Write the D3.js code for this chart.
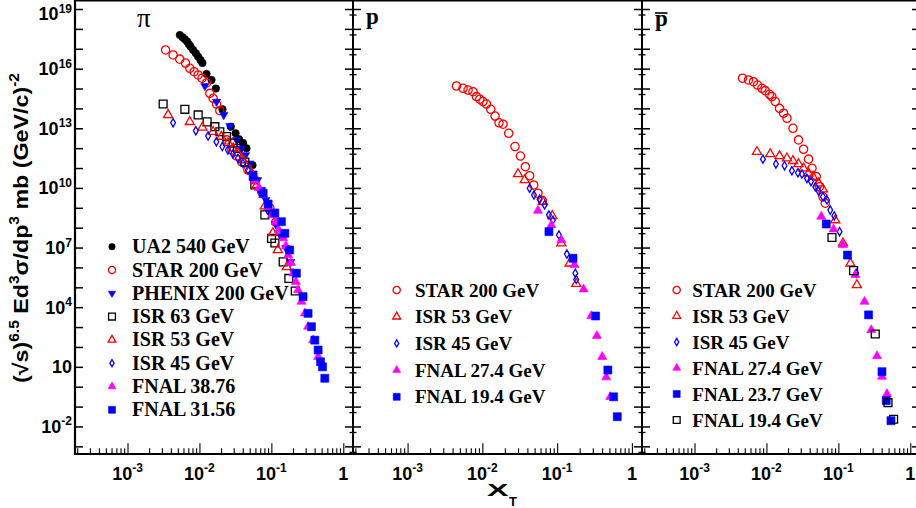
<!DOCTYPE html>
<html>
<head>
<meta charset="utf-8">
<script src="https://cdn.jsdelivr.net/npm/d3@7"></script>
<style>
  html, body { margin: 0; padding: 0; background: #fff; }
  svg { display: block; }
</style>
</head>
<body>
<svg id="chart" width="916" height="508"></svg>
<script>
// ---- Data: [x_T, (sqrt s)^6.5 E d3sigma/dp3] ----

// pi panel
const piUA2 = [[0.00534,4.9e17],[0.00582,3.8e17],[0.00627,3.0e17],[0.00675,2.3e17],[0.00713,1.7e17],[0.00752,1.3e17],[0.00817,8.7e16],[0.00891,5.9e16],[0.00959,4.0e16],[0.01035,2.7e16],[0.0110,1.9e16],[0.01255,5.4e15],[0.01473,2.7e15],[0.0169,1.0e15],[0.0209,9.0e13],[0.0273,1.2e13],[0.0318,5.6e12],[0.0356,2.8e12],[0.0405,1.8e12],[0.0451,9.8e11],[0.0547,1.4e11]];
const piSTAR = [[0.00338,8.7e16],[0.00431,4.9e16],[0.00533,3.0e16],[0.00641,1.9e16],[0.00735,1.04e16],[0.00843,7.0e15],[0.0096,4.8e15],[0.0109,3.3e15],[0.01256,1.9e15],[0.01395,5.7e14],[0.0155,3.2e14],[0.0173,1.66e14],[0.0192,7.7e13],[0.0240,2.6e12],[0.0282,8.1e11],[0.0331,4.0e11],[0.0389,2.0e11],[0.0471,8.0e10],[0.0589,2.5e10],[0.0736,6.2e9],[0.0951,9.8e8],[0.115,1.9e8]];
const piPHENIX = [[0.0119,1.34e15],[0.0173,2.2e14],[0.0218,4.7e13],[0.0265,1.3e13],[0.0328,2.6e12],[0.0385,9.8e11],[0.0437,4.5e11],[0.0502,1.7e11],[0.0558,5.4e10],[0.0643,2.5e10],[0.0730,7.9e9],[0.0838,2.5e9],[0.0984,6.2e8],[0.115,1.5e8],[0.135,3.8e7],[0.159,9.5e6],[0.186,1.9e6],[0.205,5.9e5]];
const piISR63 = [[0.00313,1.66e14],[0.00627,9.0e13],[0.0096,4.7e13],[0.0128,2.1e13],[0.0164,1.2e13],[0.0192,6.7e12],[0.0238,3.8e12],[0.0294,1.8e12],[0.0339,9.8e11],[0.0428,2.0e11],[0.0589,1.4e10],[0.0811,4.4e8],[0.1005,2.9e7],[0.112,1.7e7],[0.146,1.9e6],[0.175,2.8e5],[0.215,6.5e4]];
const piISR53 = [[0.00367,4.7e13],[0.00734,2.1e13],[0.0110,1.1e13],[0.0155,6.7e12],[0.0202,3.8e12],[0.025,1.8e12],[0.0294,9.8e11],[0.0341,5.7e11],[0.0405,2.5e11],[0.0501,8.0e10],[0.0627,1.4e10],[0.081,1.2e9],[0.105,5.4e7],[0.123,7.6e6],[0.164,1.05e6]];
const piISR45 = [[0.0043,1.9e13],[0.0089,7.5e12],[0.0132,4.1e12],[0.0172,2.1e12],[0.0208,1.2e12],[0.0249,8.1e11],[0.0292,5.1e11],[0.0343,3.1e11],[0.0403,1.7e11],[0.0473,8.0e10],[0.0555,3.5e10],[0.0687,7.9e9],[0.0887,7.8e8]];
const piFNAL3876 = [[0.0589,2.5e10],[0.067,9.9e9],[0.0769,4.4e9],[0.0902,1.14e9],[0.1016,4.3e8],[0.1154,1.9e8],[0.127,7.6e7],[0.146,3.0e7],[0.159,1.2e7],[0.171,4.2e6],[0.187,1.7e6],[0.201,5.1e5],[0.219,1.9e5],[0.235,7.3e4],[0.262,1.9e4],[0.292,4.9e3],[0.324,1.04e3],[0.381,2.2e2],[0.447,32]];
const piFNAL3156 = [[0.0558,3.7e10],[0.0769,5.4e9],[0.0902,1.55e9],[0.1117,5.5e8],[0.138,2.0e8],[0.154,5.2e7],[0.180,7.5e6],[0.223,5.1e5],[0.276,3.4e4],[0.324,4.9e3],[0.361,1.04e3],[0.402,2.2e2],[0.447,70],[0.482,18],[0.514,10],[0.553,2.65]];

// proton panel
const pSTAR = [[0.00451,1.34e15],[0.00552,1.03e15],[0.00644,8.4e14],[0.00751,6.9e14],[0.00834,3.9e14],[0.00923,2.9e14],[0.0102,2.2e14],[0.01135,1.66e14],[0.01295,9.0e13],[0.0148,4.1e13],[0.0167,1.9e13],[0.0189,1.6e13],[0.0225,5.6e12],[0.0273,1.2e12],[0.0323,4.0e11],[0.0376,1.17e11],[0.0429,4.1e10],[0.0486,1.4e10],[0.0554,5.4e9],[0.0634,2.3e9]];
const pISR53 = [[0.030,5.0e10],[0.0368,2.5e10],[0.0646,2.0e9],[0.0862,3.9e8],[0.1137,1.64e7],[0.147,1.6e6],[0.180,1.5e5]];
const pISR45 = [[0.0429,9.6e9],[0.049,4.4e9],[0.0583,2.7e9],[0.068,1.4e9],[0.0777,4.3e8],[0.0879,2.4e8],[0.1057,4.3e7],[0.135,4.7e6],[0.175,5.1e5],[0.180,2.5e5]];
const pFNAL274 = [[0.0554,7.2e8],[0.0837,1.36e8],[0.1137,2.4e7],[0.171,1.33e6],[0.226,7.9e4],[0.286,3.6e3],[0.340,3.6e2],[0.401,32],[0.454,3.0],[0.513,0.31]];
const pFNAL194 = [[0.0777,6.3e7],[0.163,2.9e6],[0.327,3.6e3],[0.477,6.9],[0.569,0.31],[0.637,0.031]];

// antiproton panel
const pbarSTAR = [[0.00465,3.3e15],[0.00563,2.7e15],[0.00662,2.2e15],[0.00752,1.5e15],[0.00866,1.03e15],[0.00962,7.8e14],[0.0110,5.1e14],[0.0119,3.9e14],[0.01325,2.2e14],[0.0152,1.0e14],[0.0173,5.7e13],[0.0193,3.2e13],[0.0234,1.0e13],[0.0279,2.6e12],[0.0328,8.8e11],[0.0385,2.8e11],[0.043,9.7e10],[0.0493,3.7e10],[0.0548,1.15e10],[0.0611,3.6e9],[0.0658,1.7e9]];
const pbarISR53 = [[0.00738,6.6e11],[0.0113,5.1e11],[0.0152,4.0e11],[0.0193,3.1e11],[0.0234,2.3e11],[0.0279,1.6e11],[0.0328,9.7e10],[0.0385,5.4e10],[0.0443,3.7e10],[0.0531,1.7e10],[0.0611,8.5e9],[0.0906,2.4e8],[0.116,1.64e7],[0.147,1.6e6],[0.181,1.3e5]];
const pbarISR45 = [[0.00894,2.8e11],[0.01355,1.6e11],[0.01786,1.31e11],[0.0226,7.3e10],[0.0274,5.8e10],[0.0312,5.0e10],[0.0366,3.0e10],[0.0416,2.1e10],[0.0478,1.15e10],[0.0531,7.0e9],[0.0611,3.6e9],[0.0694,2.5e9],[0.0771,7.7e8],[0.0877,3.9e8],[0.104,6.3e7],[0.177,5.1e5]];
const pbarFNAL274 = [[0.0578,3.6e8],[0.0858,8.3e7],[0.116,1.35e7],[0.172,4.2e5],[0.231,1.9e4],[0.286,7.1e2],[0.344,35],[0.404,3.2],[0.474,0.43]];
const pbarFNAL237 = [[0.0679,1.53e8],[0.134,4.2e6],[0.263,4.1e3],[0.404,5.7],[0.463,0.198],[0.539,0.0195]];
const pbarFNAL194 = [[0.0815,3.2e7],[0.163,6.9e5],[0.326,4.5e2],[0.490,0.157],[0.586,0.023]];

// Axis labelling (powers of ten)
const xLabelExps = [-3, -2, -1, 0];
const yLabelExps = [19, 16, 13, 10, 7, 4, 1, -2];

// ---- Styles per marker type ----
const RED = "#ff0000", BLUE = "#0000ff", MAG = "#ff00ff", BLK = "#000000";
const styles = {
  fullCircle:   { type: d3.symbolCircle,   size: 44, filled: true,  rot: 0 },
  openCircle:   { type: d3.symbolCircle,   size: 54, filled: false, rot: 0 },
  fullTriDown:  { type: d3.symbolTriangle, size: 30, filled: true,  rot: 180 },
  openSquare:   { type: d3.symbolSquare,   size: 62, filled: false, rot: 0 },
  openTriangle: { type: d3.symbolTriangle, size: 36, filled: false, rot: 0 },
  openDiamond:  { type: d3.symbolDiamond,  size: 20, filled: false, rot: 0 },
  fullTriangle: { type: d3.symbolTriangle, size: 36, filled: true,  rot: 0 },
  fullSquare:   { type: d3.symbolSquare,   size: 64, filled: true,  rot: 0 }
};

const panels = [
  { x0: 75, x1: 353, label: "π", legendX: 112, legendY: 246.7, legendStep: 23.3, textX: 132, legendFont: 20,
    series: [
      { name: "UA2 540 GeV",     data: piUA2,     style: "fullCircle",   color: BLK },
      { name: "STAR 200 GeV",    data: piSTAR,    style: "openCircle",   color: RED },
      { name: "PHENIX 200 GeV",  data: piPHENIX,  style: "fullTriDown",  color: BLUE },
      { name: "ISR 63 GeV",      data: piISR63,   style: "openSquare",   color: BLK },
      { name: "ISR 53 GeV",      data: piISR53,   style: "openTriangle", color: RED },
      { name: "ISR 45 GeV",      data: piISR45,   style: "openDiamond",  color: BLUE },
      { name: "FNAL 38.76",      data: piFNAL3876, style: "fullTriangle", color: MAG },
      { name: "FNAL 31.56",      data: piFNAL3156, style: "fullSquare",   color: BLUE }
    ] },
  { x0: 353, x1: 642, label: "p", legendX: 396.7, legendY: 290, legendStep: 26.7, textX: 415, legendFont: 19,
    series: [
      { name: "STAR 200 GeV",   data: pSTAR,    style: "openCircle",   color: RED },
      { name: "ISR 53 GeV",     data: pISR53,   style: "openTriangle", color: RED },
      { name: "ISR 45 GeV",     data: pISR45,   style: "openDiamond",  color: BLUE },
      { name: "FNAL 27.4 GeV",  data: pFNAL274, style: "fullTriangle", color: MAG },
      { name: "FNAL 19.4 GeV",  data: pFNAL194, style: "fullSquare",   color: BLUE }
    ] },
  { x0: 642, x1: 920, label: "p", bar: true, legendX: 676.7, legendY: 290, legendStep: 26, textX: 692.3, legendFont: 19,
    series: [
      { name: "STAR 200 GeV",   data: pbarSTAR,    style: "openCircle",   color: RED },
      { name: "ISR 53 GeV",     data: pbarISR53,   style: "openTriangle", color: RED },
      { name: "ISR 45 GeV",     data: pbarISR45,   style: "openDiamond",  color: BLUE },
      { name: "FNAL 27.4 GeV",  data: pbarFNAL274, style: "fullTriangle", color: MAG },
      { name: "FNAL 23.7 GeV",  data: pbarFNAL237, style: "fullSquare",   color: BLUE },
      { name: "FNAL 19.4 GeV",  data: pbarFNAL194, style: "openSquare",   color: BLK }
    ] }
];

// ---- Geometry ----
const TOP = 0, BOTTOM = 454;
const SANS = "Liberation Sans, Arial, Helvetica, sans-serif";
const SERIF = "Liberation Serif, Times New Roman, Times, serif";

const svg = d3.select("#chart");
svg.append("rect").attr("width", 916).attr("height", 508).attr("fill", "#fff");

const yScale = d3.scaleLog()
  .domain([Math.pow(10, -3.385), Math.pow(10, 19.453)])
  .range([BOTTOM, TOP]);
// the inner frames of the p and pbar pads are offset slightly in y
const yScaleInner = d3.scaleLog()
  .domain([Math.pow(10, -3.108), Math.pow(10, 19.73)])
  .range([BOTTOM, TOP]);
const xDomain = [Math.pow(10, -3.73), Math.pow(10, 0.135)];

const yDecades = d3.range(-3, 20).map(e => Math.pow(10, e));

function markerPath(st, scale) {
  return d3.symbol().type(st.type).size(st.size * (scale || 1))();
}

function drawMarker(g, st, color, x, y, scale) {
  g.append("path")
    .attr("d", markerPath(st, scale))
    .attr("transform", `translate(${x},${y}) rotate(${st.rot})`)
    .attr("fill", st.filled ? color : "none")
    .attr("stroke", color)
    .attr("stroke-width", st.filled ? 0.6 : 1.3);
}

panels.forEach((p, pi) => {
  const x = d3.scaleLog().domain(xDomain).range([p.x0, p.x1]);
  const g = svg.append("g");

  // x ticks (major and minor), pointing up into the frame
  const majors = [], minors = [];
  for (let e = -4; e <= 0; e++) {
    for (let k = 1; k <= 9; k++) {
      const v = k * Math.pow(10, e);
      if (v < xDomain[0] || v > xDomain[1]) continue;
      (k === 1 ? majors : minors).push(v);
    }
  }
  const axMinor = g.append("g").attr("transform", `translate(0,${BOTTOM})`)
    .call(d3.axisBottom(x).tickValues(minors).tickSize(-5.7).tickFormat(""));
  const axMajor = g.append("g").attr("transform", `translate(0,${BOTTOM})`)
    .call(d3.axisBottom(x).tickValues(majors).tickSize(-10.7).tickFormat(""));
  [axMinor, axMajor].forEach(a => {
    a.select(".domain").remove();
    a.selectAll(".tick line").attr("stroke", "#000").attr("stroke-width", 1.1);
  });

  // x tick labels
  xLabelExps.forEach(e => {
    const t = g.append("text")
      .attr("x", x(Math.pow(10, e))).attr("y", 480)
      .attr("text-anchor", "middle")
      .style("font-family", SANS).attr("font-weight", "bold").attr("font-size", 18);
    if (e === 0) {
      t.text("1");
    } else {
      t.append("tspan").text("10");
      t.append("tspan").attr("font-size", 12).attr("dy", -8).text(String(e));
    }
  });

  // y ticks on the left edge (pointing right) and right edge (pointing left)
  const left = g.append("g").attr("transform", `translate(${p.x0},0)`)
    .call(d3.axisLeft(yScale).tickValues(yDecades).tickSize(-8).tickFormat(""));
  const right = g.append("g").attr("transform", `translate(${p.x1},0)`)
    .call(d3.axisRight(yScale).tickValues(yDecades).tickSize(-8).tickFormat(""));
  [left, right].forEach(a => {
    a.select(".domain").remove();
    a.selectAll(".tick line").attr("stroke", "#000").attr("stroke-width", 1.5);
  });
  if (pi > 0) {
    const inner = g.append("g").attr("transform", `translate(${p.x0 - 3.5},0)`)
      .call(d3.axisRight(yScaleInner).tickValues(yDecades).tickSize(7).tickFormat(""));
    inner.select(".domain").remove();
    inner.selectAll(".tick line").attr("stroke", "#000").attr("stroke-width", 1.3);
  }

  // data markers
  p.series.forEach(s => {
    const st = styles[s.style];
    const sg = g.append("g");
    s.data.forEach(d => drawMarker(sg, st, s.color, x(d[0]), yScale(d[1])));
  });

  // legend
  p.series.forEach((s, i) => {
    const st = styles[s.style];
    const ly = p.legendY + i * p.legendStep;
    drawMarker(g, st, s.color, p.legendX, ly, 0.75);
    g.append("text")
      .attr("x", p.textX).attr("y", ly + 6.5)
      .style("font-family", SERIF).attr("font-weight", "bold").attr("font-size", p.legendFont)
      .text(s.name);
  });

  // particle label
  if (pi === 0) {
    g.append("text").attr("x", 137).attr("y", 27)
      .style("font-family", SERIF).attr("font-size", 27).text(p.label);
  } else {
    const lx = p.x0 + 13;
    const base = p.bar ? 26 : 23.5;
    g.append("text").attr("x", lx).attr("y", base)
      .style("font-family", SERIF).attr("font-weight", "bold").attr("font-size", 23).text(p.label);
    if (p.bar) {
      g.append("line").attr("x1", lx).attr("x2", lx + 12.5).attr("y1", 13).attr("y2", 13)
        .attr("stroke", "#000").attr("stroke-width", 1.6);
    }
  }

  // left frame edge
  g.append("line").attr("x1", p.x0).attr("x2", p.x0).attr("y1", TOP).attr("y2", BOTTOM)
    .attr("stroke", "#000").attr("stroke-width", pi === 0 ? 2.2 : 2);
});

// top and bottom frame lines
svg.append("line").attr("x1", 75).attr("x2", 916).attr("y1", 0.7).attr("y2", 0.7)
  .attr("stroke", "#000").attr("stroke-width", 1.4);
svg.append("line").attr("x1", 74).attr("x2", 916).attr("y1", BOTTOM).attr("y2", BOTTOM)
  .attr("stroke", "#000").attr("stroke-width", 2.2);

// y tick labels (left panel only)
yLabelExps.forEach(e => {
  const ty = yScale(Math.pow(10, e));
  const t = svg.append("text")
    .attr("x", 72).attr("y", Math.max(ty + 6.5, 20))
    .attr("text-anchor", "end")
    .style("font-family", SANS).attr("font-weight", "bold").attr("font-size", 18);
  if (e === 1) {
    t.text("10");
  } else {
    t.append("tspan").text("10");
    t.append("tspan").attr("font-size", 12).attr("dy", -7.5).text(String(e));
  }
});

// y axis title
const yt = svg.append("text")
  .attr("transform", "translate(28,228) rotate(-90)")
  .attr("text-anchor", "middle")
  .style("font-family", SANS).attr("font-weight", "bold").attr("font-size", 21)
  .attr("textLength", 310).attr("lengthAdjust", "spacingAndGlyphs");
yt.append("tspan").text("(√s)");
yt.append("tspan").attr("font-size", 14).attr("dy", -9).text("6.5");
yt.append("tspan").attr("dy", 9).text(" Ed");
yt.append("tspan").attr("font-size", 14).attr("dy", -9).text("3");
yt.append("tspan").attr("dy", 9).text("σ/dp");
yt.append("tspan").attr("font-size", 14).attr("dy", -9).text("3");
yt.append("tspan").attr("dy", 9).text(" mb (GeV/c)");
yt.append("tspan").attr("font-size", 14).attr("dy", -9).text("-2");

// x axis title
svg.append("text")
  .attr("transform", "translate(487,495.5) scale(1.9,1)")
  .style("font-family", SANS).attr("font-weight", "bold").attr("font-size", 17)
  .text("X");
svg.append("text")
  .attr("x", 509).attr("y", 506)
  .style("font-family", SANS).attr("font-weight", "bold").attr("font-size", 13)
  .text("T");
</script>
</body>
</html>
